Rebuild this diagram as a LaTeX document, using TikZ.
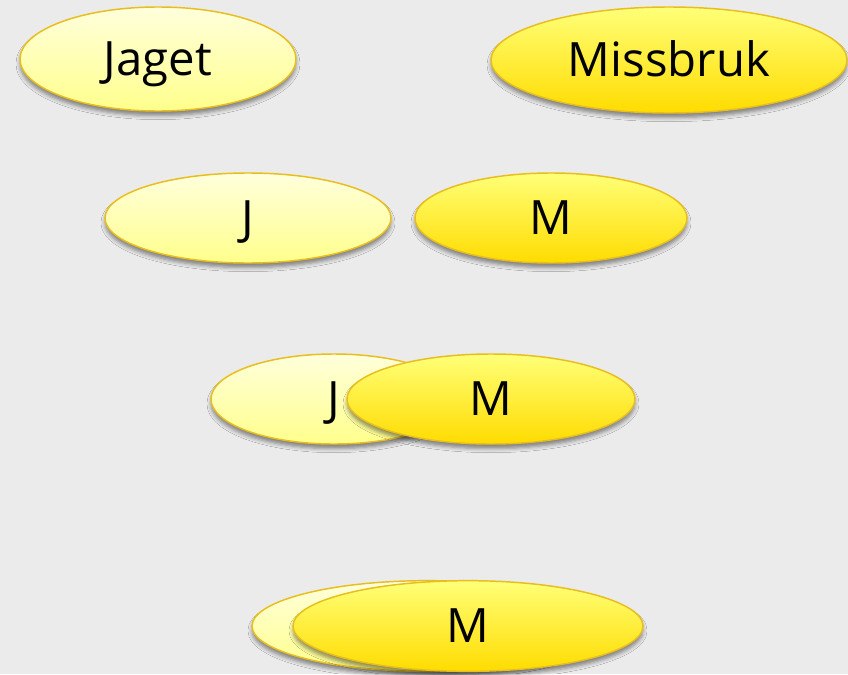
\documentclass[tikz,border=0pt]{standalone}
\usepackage{fontspec}
\setmainfont{Open Sans}
\usetikzlibrary{shapes.geometric,shadows.blur}
\definecolor{bg}{HTML}{EBEBEB}
\definecolor{rim}{HTML}{E8BE1E}
\definecolor{paletop}{HTML}{FFFFDC}
\definecolor{palebot}{HTML}{FFFF8C}
\definecolor{deeptop}{HTML}{FFFF78}
\definecolor{deepbot}{HTML}{FFDC00}
\tikzset{
  oval/.style={ellipse, draw=rim, line width=1.1pt, inner sep=0pt,
    font=\fontsize{35.5}{42}\selectfont, text=black,
    text height=25.3pt, text depth=0pt,
    blur shadow={shadow xshift=0pt, shadow yshift=-3.5pt, shadow blur radius=3pt, shadow opacity=45}},
  pale/.style={oval, top color=paletop, bottom color=palebot},
  deep/.style={oval, top color=deeptop, bottom color=deepbot},
}
\begin{document}
\begin{tikzpicture}[x=0.75pt,y=-0.75pt]
\fill[bg] (0,0) rectangle (848,674);
\useasboundingbox (0,0) rectangle (848,674);
\node[pale, minimum width=207pt, minimum height=78pt] (jaget) at (158,59) {Jaget};
\node[deep, minimum width=267pt, minimum height=79.5pt] (missbruk) at (669,60) {Missbruk};
\node[pale, minimum width=214.5pt, minimum height=67.5pt] (j2) at (248,218) {J};
\node[deep, minimum width=204pt, minimum height=67.5pt] (m2) at (551,218) {M};
\node[pale, minimum width=184.5pt, minimum height=67.5pt] (j3) at (334,399) {J};
\node[deep, minimum width=216pt, minimum height=67.5pt] (m3) at (491,399) {M};
\node[pale, minimum width=262.5pt, minimum height=68pt] (j4) at (427,626) {};
\node[deep, minimum width=262.5pt, minimum height=68pt] (m4) at (468,626) {M};
\end{tikzpicture}
\end{document}
